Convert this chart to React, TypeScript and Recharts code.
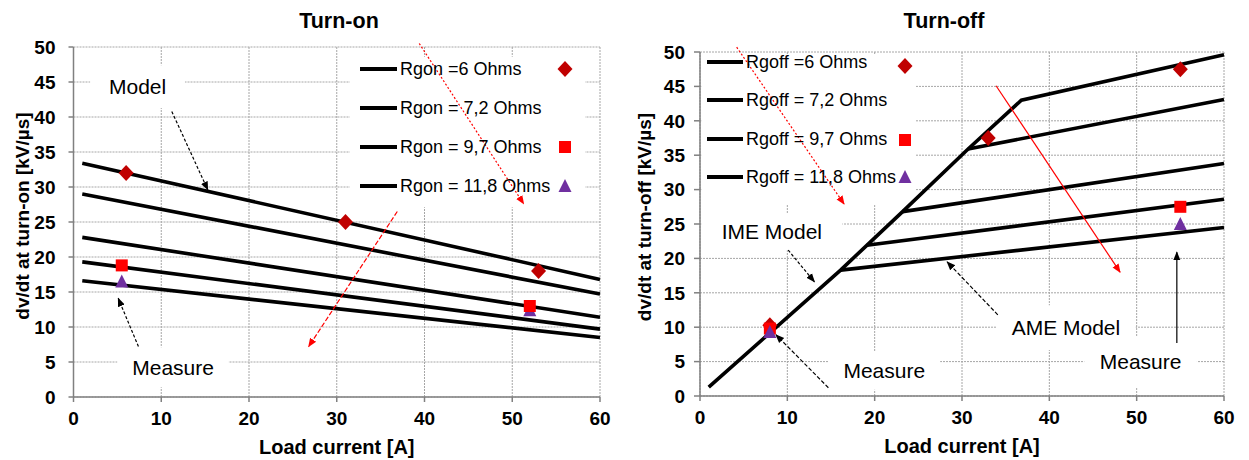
import {
  ComposedChart,
  Line,
  Scatter,
  XAxis,
  YAxis,
  CartesianGrid,
  ReferenceArea,
  ReferenceLine,
} from "recharts";

type Pt = { x: number; y: number };
type Kind = "diamond" | "square" | "triangle";

const H = 460;
const RED = "#ff0000";

const xTicks = [0, 10, 20, 30, 40, 50, 60];
const yTicks = [0, 5, 10, 15, 20, 25, 30, 35, 40, 45, 50];

// Turn-on: model lines, load current [A] vs dv/dt [kV/µs]
const onModelA: Pt[] = [{ x: 1, y: 33.4 }, { x: 60, y: 16.8 }];
const onModelB: Pt[] = [{ x: 1, y: 29.0 }, { x: 60, y: 14.7 }];
const onModelC: Pt[] = [{ x: 1, y: 22.8 }, { x: 60, y: 11.4 }];
const onModelD: Pt[] = [{ x: 1, y: 19.3 }, { x: 60, y: 9.7 }];
const onModelE: Pt[] = [{ x: 1, y: 16.6 }, { x: 60, y: 8.5 }];

// Turn-on: measures
const onMeas6: Pt[] = [{ x: 6, y: 32 }, { x: 31, y: 25 }, { x: 53, y: 18 }];
const onMeas97: Pt[] = [{ x: 5.5, y: 18.8 }, { x: 52, y: 13.0 }];
const onMeas118: Pt[] = [{ x: 5.5, y: 16.5 }, { x: 52, y: 12.4 }];

// Turn-off: IME model (rising) + AME branches
const offIme: Pt[] = [
  { x: 1, y: 1.3 },
  { x: 16.1, y: 18.3 },
  { x: 19.1, y: 21.9 },
  { x: 23.2, y: 26.8 },
  { x: 30.7, y: 35.9 },
  { x: 36.8, y: 43.0 },
  { x: 60, y: 49.6 },
];
const offAmeB: Pt[] = [{ x: 30.7, y: 35.9 }, { x: 60, y: 43.1 }];
const offAmeC: Pt[] = [{ x: 23.2, y: 26.8 }, { x: 60, y: 33.8 }];
const offAmeD: Pt[] = [{ x: 19.1, y: 21.9 }, { x: 60, y: 28.6 }];
const offAmeE: Pt[] = [{ x: 16.1, y: 18.3 }, { x: 60, y: 24.5 }];

// Turn-off: measures
const offMeas6: Pt[] = [{ x: 8, y: 10.3 }, { x: 33, y: 37.5 }, { x: 55, y: 47.5 }];
const offMeas97: Pt[] = [{ x: 8, y: 9.8 }, { x: 55, y: 27.5 }];
const offMeas118: Pt[] = [{ x: 8, y: 9.3 }, { x: 55, y: 25.0 }];

const onLegend = ["Rgon =6 Ohms", "Rgon = 7,2 Ohms", "Rgon = 9,7 Ohms", "Rgon = 11,8 Ohms"];
const offLegend = ["Rgoff =6 Ohms", "Rgoff = 7,2 Ohms", "Rgoff = 9,7 Ohms", "Rgoff = 11,8 Ohms"];
const legendKinds: (Kind | null)[] = ["diamond", null, "square", "triangle"];

type Box = { x1: number; x2: number; y1: number; y2: number; text?: string };
type Arrow = { from: Pt; to: Pt; color: string; dash?: string };

const onBoxes: Box[] = [
  { x1: 31.5, x2: 58.3, y1: 27.1, y2: 48.6 },
  { x1: 1.9, x2: 12.7, y1: 41.3, y2: 47.4, text: "Model" },
  { x1: 5.0, x2: 17.7, y1: 1.4, y2: 7.1, text: "Measure" },
];
const offBoxes: Box[] = [
  { x1: 0.15, x2: 24.7, y1: 27.8, y2: 49.6 },
  { x1: 0.15, x2: 16.3, y1: 21.2, y2: 26.6, text: "IME Model" },
  { x1: 33.9, x2: 49.9, y1: 6.7, y2: 13.2, text: "AME Model" },
  { x1: 14.7, x2: 27.5, y1: 0.9, y2: 6.5, text: "Measure" },
  { x1: 44.0, x2: 56.9, y1: 1.2, y2: 8.7, text: "Measure" },
];

const onArrows: Arrow[] = [
  { from: { x: 11.2, y: 40.8 }, to: { x: 15.3, y: 29.6 }, color: "#000", dash: "3 2" },
  { from: { x: 7.4, y: 7.2 }, to: { x: 5.1, y: 14.1 }, color: "#000", dash: "3 2" },
  { from: { x: 39.4, y: 50.5 }, to: { x: 51.3, y: 27.6 }, color: RED, dash: "2 2" },
  { from: { x: 36.9, y: 26.5 }, to: { x: 26.8, y: 7.2 }, color: RED, dash: "5 2" },
];
const offArrows: Arrow[] = [
  { from: { x: 4.2, y: 50.7 }, to: { x: 16.5, y: 27.9 }, color: RED, dash: "2 2" },
  { from: { x: 33.9, y: 45.1 }, to: { x: 48.1, y: 18.0 }, color: RED },
  { from: { x: 10.1, y: 21.2 }, to: { x: 13.1, y: 16.6 }, color: "#000", dash: "3 2" },
  { from: { x: 34.1, y: 11.8 }, to: { x: 28.3, y: 19.5 }, color: "#000", dash: "4 2" },
  { from: { x: 14.7, y: 1.2 }, to: { x: 8.7, y: 8.9 }, color: "#000", dash: "4 2" },
  { from: { x: 54.6, y: 7.7 }, to: { x: 54.6, y: 20.9 }, color: "#000" },
];

const markColors: Record<Kind, string> = {
  diamond: "#c00000",
  square: "#ff0000",
  triangle: "#7030a0",
};

function Mark({ cx, cy, kind }: { cx: number; cy: number; kind: Kind }) {
  if (kind === "diamond")
    return (
      <polygon
        points={`${cx},${cy - 8} ${cx + 7.5},${cy} ${cx},${cy + 8} ${cx - 7.5},${cy}`}
        fill={markColors.diamond}
      />
    );
  if (kind === "square")
    return <rect x={cx - 6} y={cy - 6} width={12} height={12} fill={markColors.square} />;
  return (
    <polygon
      points={`${cx},${cy - 7} ${cx + 6.5},${cy + 6} ${cx - 6.5},${cy + 6}`}
      fill={markColors.triangle}
    />
  );
}

type LegendLayout = {
  sampleX: number;
  sampleW: number;
  textX: number;
  rows: number[];
  markX: number;
  markYs: number[];
};

type PanelProps = {
  left: number;
  width: number;
  margin: { top: number; right: number; bottom: number; left: number };
  title: string;
  titleX: number;
  yLabel: string;
  yLabelOffset: number;
  yLabelShift: number;
  yTickSize: number;
  yTickMargin: number;
  lines: Pt[][];
  marks: { data: Pt[]; kind: Kind }[];
  boxes: Box[];
  arrows: Arrow[];
  legendText: string[];
  legend: LegendLayout;
};

const tickStyle = { fill: "#000", fontSize: 19, fontWeight: 700 };

function Panel(p: PanelProps) {
  return (
    <div style={{ position: "absolute", left: p.left, top: 0, width: p.width, height: H }}>
      <div
        style={{
          position: "absolute",
          left: p.titleX - 100,
          top: 9,
          width: 200,
          textAlign: "center",
          fontSize: 21.5,
          fontWeight: 700,
          lineHeight: "24px",
        }}
      >
        {p.title}
      </div>
      <ComposedChart width={p.width} height={H} margin={p.margin}>
        <CartesianGrid stroke="#a6a6a6" strokeDasharray="2 1" />
        <XAxis
          type="number"
          dataKey="x"
          domain={[0, 60]}
          ticks={xTicks}
          interval={0}
          height={60}
          stroke="#808080"
          strokeWidth={1.5}
          tickSize={5}
          tickMargin={10}
          tick={tickStyle}
          label={{
            value: "Load current [A]",
            position: "insideBottom",
            offset: 3,
            fontSize: 20,
            fontWeight: 700,
            fill: "#000",
          }}
        />
        <YAxis
          type="number"
          dataKey="y"
          domain={[0, 50]}
          ticks={yTicks}
          interval={0}
          width={60}
          stroke="#808080"
          strokeWidth={1.5}
          tickSize={p.yTickSize}
          tickMargin={p.yTickMargin}
          tick={tickStyle}
          label={{
            value: p.yLabel,
            angle: -90,
            position: "insideLeft",
            offset: p.yLabelOffset,
            dy: p.yLabelShift,
            style: { textAnchor: "middle" },
            fontSize: 19,
            fontWeight: 700,
            fill: "#000",
          }}
        />
        {p.boxes.map((b, i) => (
          <ReferenceArea
            key={"b" + i}
            x1={b.x1}
            x2={b.x2}
            y1={b.y1}
            y2={b.y2}
            fill="#fff"
            fillOpacity={1}
            stroke="none"
            ifOverflow="visible"
            label={
              b.text
                ? { value: b.text, position: "center", fontSize: 21, fill: "#000" }
                : undefined
            }
          />
        ))}
        {p.lines.map((d, i) => (
          <Line
            key={"l" + i}
            data={d}
            dataKey="y"
            type="linear"
            stroke="#000"
            strokeWidth={3.6}
            dot={false}
            activeDot={false}
            isAnimationActive={false}
          />
        ))}
        {p.marks.map((m, i) => (
          <Scatter
            key={"m" + i}
            data={m.data}
            dataKey="y"
            isAnimationActive={false}
            shape={(s: any) => <Mark cx={s.cx} cy={s.cy} kind={m.kind} />}
          />
        ))}
        {p.arrows.map((a, i) => (
          <ReferenceLine
            key={"a" + i}
            segment={[a.from, a.to]}
            stroke={a.color}
            strokeWidth={1.2}
            strokeDasharray={a.dash}
            ifOverflow="visible"
            markerEnd={a.color === RED ? "url(#ah-red)" : "url(#ah-black)"}
          />
        ))}
      </ComposedChart>
      {p.legendText.map((t, i) => (
        <div
          key={"t" + i}
          style={{
            position: "absolute",
            left: p.legend.sampleX,
            top: p.legend.rows[i] - 11,
            height: 22,
            display: "flex",
            alignItems: "center",
            fontSize: 18,
            whiteSpace: "nowrap",
            pointerEvents: "none",
          }}
        >
          <div style={{ width: p.legend.sampleW, height: 4, background: "#000" }} />
          <span style={{ marginLeft: p.legend.textX - p.legend.sampleX - p.legend.sampleW }}>
            {t}
          </span>
        </div>
      ))}
      {legendKinds.map((k, i) =>
        k ? (
          <svg
            key={"k" + i}
            width={18}
            height={18}
            style={{ position: "absolute", left: p.legend.markX - 9, top: p.legend.markYs[i] - 9 }}
          >
            <Mark cx={9} cy={9} kind={k} />
          </svg>
        ) : null
      )}
    </div>
  );
}

export default function App() {
  return (
    <div
      style={{
        position: "absolute",
        left: 0,
        top: 0,
        width: 1249,
        height: H,
        background: "#fff",
        fontFamily: 'Arial, "Liberation Sans", Helvetica, sans-serif',
        overflow: "hidden",
      }}
    >
      <svg width={0} height={0} style={{ position: "absolute" }}>
        <defs>
          <marker
            id="ah-black"
            viewBox="0 0 10 10"
            refX={9}
            refY={5}
            markerWidth={9}
            markerHeight={9}
            markerUnits="userSpaceOnUse"
            orient="auto"
          >
            <path d="M0,1 L10,5 L0,9 z" fill="#000" />
          </marker>
          <marker
            id="ah-red"
            viewBox="0 0 10 10"
            refX={9}
            refY={5}
            markerWidth={9}
            markerHeight={9}
            markerUnits="userSpaceOnUse"
            orient="auto"
          >
            <path d="M0,1 L10,5 L0,9 z" fill={RED} />
          </marker>
        </defs>
      </svg>
      <Panel
        left={0}
        width={620}
        margin={{ top: 47, right: 20, bottom: 3, left: 13.5 }}
        title="Turn-on"
        titleX={339}
        yLabel="dv/dt at turn-on [kV/µs]"
        yLabelOffset={9}
        yLabelShift={-6}
        yTickSize={5}
        yTickMargin={13}
        lines={[onModelA, onModelB, onModelC, onModelD, onModelE]}
        marks={[
          { data: onMeas118, kind: "triangle" },
          { data: onMeas97, kind: "square" },
          { data: onMeas6, kind: "diamond" },
        ]}
        boxes={onBoxes}
        arrows={onArrows}
        legendText={onLegend}
        legend={{
          sampleX: 360,
          sampleW: 37,
          textX: 400,
          rows: [69, 108, 147, 186],
          markX: 565,
          markYs: [69, 108, 147, 186],
        }}
      />
      <Panel
        left={620}
        width={629}
        margin={{ top: 52, right: 25, bottom: 4, left: 20 }}
        title="Turn-off"
        titleX={324}
        yLabel="dv/dt at turn-off [kV/µs]"
        yLabelOffset={4}
        yLabelShift={-7}
        yTickSize={6}
        yTickMargin={9}
        lines={[offIme, offAmeB, offAmeC, offAmeD, offAmeE]}
        marks={[
          { data: offMeas6, kind: "diamond" },
          { data: offMeas97, kind: "square" },
          { data: offMeas118, kind: "triangle" },
        ]}
        boxes={offBoxes}
        arrows={offArrows}
        legendText={offLegend}
        legend={{
          sampleX: 87,
          sampleW: 36,
          textX: 126,
          rows: [62, 100, 139, 177],
          markX: 285,
          markYs: [66, 100, 140, 177],
        }}
      />
    </div>
  );
}
